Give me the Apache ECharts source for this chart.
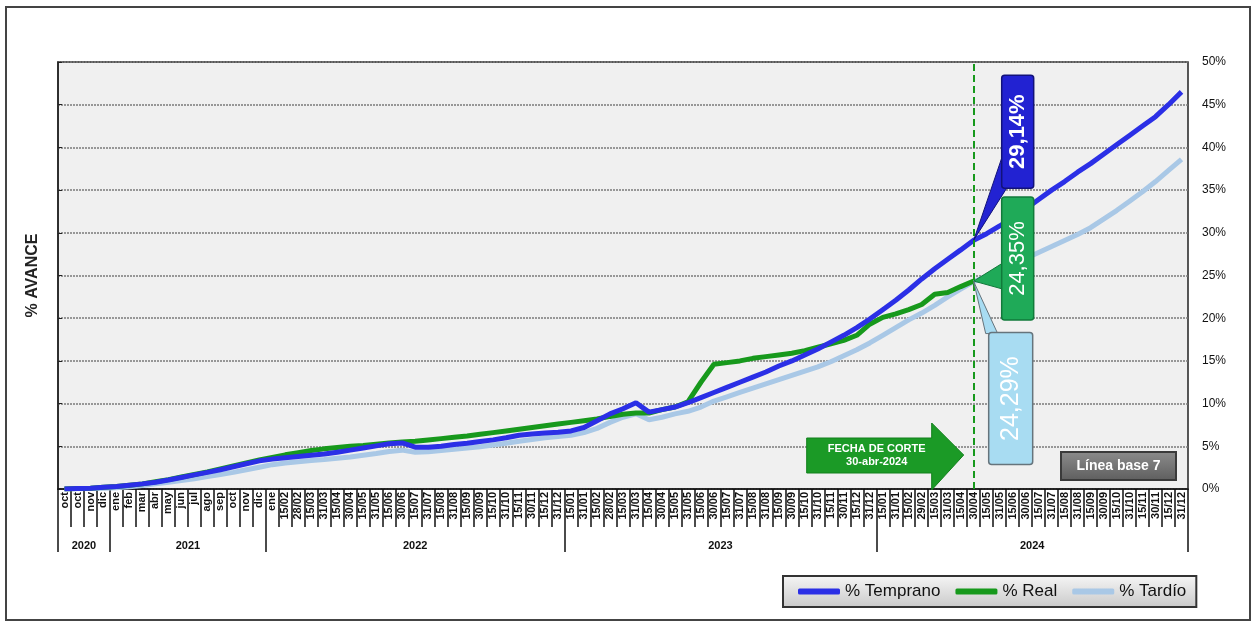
<!DOCTYPE html>
<html>
<head>
<meta charset="utf-8">
<script src="https://cdn.jsdelivr.net/npm/echarts@6/dist/echarts.min.js"></script>
<style>
  html, body { margin: 0; padding: 0; background: #fff; }
  #chart { width: 1256px; height: 626px; }
</style>
</head>
<body>
<div id="chart"></div>
<script>
// eje de fechas (87 cortes)
const categories = [
  'oct', 'oct', 'nov', 'dic',
  'ene', 'feb', 'mar', 'abr', 'may', 'jun', 'jul', 'ago', 'sep', 'oct', 'nov', 'dic',
  'ene', '15/02', '28/02', '15/03', '31/03', '15/04', '30/04', '15/05', '31/05', '15/06', '30/06', '15/07',
  '31/07', '15/08', '31/08', '15/09', '30/09', '15/10', '31/10', '15/11', '30/11', '15/12', '31/12',
  '15/01', '31/01', '15/02', '28/02', '15/03', '31/03', '15/04', '30/04', '15/05', '31/05', '15/06', '30/06',
  '15/07', '31/07', '15/08', '31/08', '15/09', '30/09', '15/10', '31/10', '15/11', '30/11', '15/12', '31/12',
  '15/01', '31/01', '15/02', '29/02', '15/03', '31/03', '15/04', '30/04', '15/05', '31/05', '15/06', '30/06',
  '15/07', '31/07', '15/08', '31/08', '15/09', '30/09', '15/10', '31/10', '15/11', '30/11', '15/12', '31/12'
]
const years = ['2020', '2021', '2022', '2023', '2024']
const yearBounds = [0, 4, 16, 39, 63, 87]
const yTicks = ['0%', '5%', '10%', '15%', '20%', '25%', '30%', '35%', '40%', '45%', '50%']

const temprano = [
  0.0, 0.05, 0.1, 0.2, 0.3, 0.45, 0.6, 0.8, 1.05, 1.35, 1.65, 1.95, 2.25, 2.6, 2.95, 3.3,
  3.5, 3.65, 3.8, 3.95, 4.1, 4.3, 4.55, 4.8, 5.05, 5.3, 5.4, 4.9, 4.9, 5.0, 5.2, 5.35,
  5.55, 5.75, 6.0, 6.3, 6.45, 6.55, 6.65, 6.8, 7.2, 8.0, 8.8, 9.4, 10.1, 9.0, 9.3, 9.6,
  10.1, 10.7, 11.3, 11.9, 12.5, 13.1, 13.7, 14.4, 15.0, 15.7, 16.4, 17.2, 18.0, 18.9, 19.9, 21.0,
  22.1, 23.3, 24.6, 25.8, 26.9, 28.0, 29.14, 29.9, 30.8, 31.8, 32.8, 33.9, 35.0, 36.0, 37.1, 38.1,
  39.2, 40.3, 41.4, 42.5, 43.6, 45.0, 46.5
]
const real = [
  0.0, 0.05, 0.1, 0.2, 0.3, 0.45, 0.6, 0.85, 1.1, 1.4, 1.7, 2.0, 2.35, 2.7, 3.05, 3.4,
  3.7, 4.0, 4.25, 4.5, 4.7, 4.85, 5.0, 5.1, 5.25, 5.4, 5.5, 5.6, 5.75, 5.9, 6.05, 6.2,
  6.4, 6.6, 6.8, 7.0, 7.2, 7.4, 7.6, 7.8, 8.0, 8.2, 8.5, 8.75, 8.9, 8.9, 9.3, 9.6,
  10.2, 12.5, 14.6, 14.8, 15.0, 15.3, 15.5, 15.7, 15.9, 16.2, 16.6, 17.0, 17.4, 18.0, 19.3, 20.1,
  20.5, 21.0, 21.6, 22.8, 23.0, 23.7, 24.35
]
const tardio = [
  0.0, 0.02, 0.05, 0.1, 0.15, 0.25, 0.4, 0.6, 0.8, 1.0, 1.2, 1.45, 1.7, 1.95, 2.25, 2.55,
  2.85, 3.05, 3.2, 3.35, 3.45, 3.6, 3.75, 3.95, 4.15, 4.4, 4.55, 4.3, 4.35, 4.5, 4.65, 4.8,
  4.95, 5.15, 5.35, 5.6, 5.8, 6.0, 6.15, 6.3, 6.6, 7.1, 7.8, 8.4, 8.8, 8.1, 8.4, 8.8,
  9.1, 9.6, 10.3, 10.8, 11.3, 11.8, 12.3, 12.8, 13.3, 13.8, 14.3, 14.9, 15.6, 16.3, 17.1, 18.0,
  18.9, 19.8, 20.6, 21.5, 22.5, 23.4, 24.29, 24.9, 25.6, 26.3, 27.0, 27.7, 28.4, 29.1, 29.8, 30.6,
  31.6, 32.6, 33.7, 34.8, 36.0, 37.3, 38.6
]

const cutIndex = 70
const cutLabel = ['FECHA DE CORTE', '30-abr-2024']
const baseLabel = 'Línea base 7'

const FONT = 'Arial, "Liberation Sans", sans-serif'
const BLUE = '#2b2fe6'
const GREEN = '#17991c'
const LIGHT = '#a9c8e6'

// estilo de los globos (caja relativa al punto de corte)
const callouts = [
  { box: [28, -165, 32, 113], tail: [[0, 0], [28, -82], [33, -52]], fill: '#2222d2', stroke: '#12127a', color: '#fff', font: 'bold 22px ' + FONT },
  { box: [28, -84, 32, 123], tail: [[0, 0], [29, -18], [29, 8]], fill: '#1faa58', stroke: '#107a3a', color: '#fff', font: '22px ' + FONT },
  { box: [15, 51, 44, 132], tail: [[0, 0], [12, 52], [24, 52]], fill: '#a8dcf2', stroke: '#66747c', color: '#fff', font: '25px ' + FONT }
]

const fmtPct = v => v.toFixed(2).replace('.', ',') + '%'
const yearMids = years.map((y, i) => (yearBounds[i] + yearBounds[i + 1]) / 2)

const chart = echarts.init(document.getElementById('chart'))

chart.setOption({
  animation: false,
  textStyle: { fontFamily: FONT },
  grid: {
    left: 58, right: 68, top: 62, bottom: 137,
    show: true, backgroundColor: '#f0f0f0', borderColor: '#222', borderWidth: 1.5
  },
  legend: {
    data: ['% Temprano', '% Real', '% Tardío'],
    left: 783, top: 576,
    padding: [7, 10, 7, 15],
    itemGap: 15, itemWidth: 42, itemHeight: 6,
    icon: 'roundRect',
    textStyle: { fontSize: 17, color: '#111', fontFamily: FONT },
    backgroundColor: {
      type: 'linear', x: 0, y: 0, x2: 0, y2: 1,
      colorStops: [{ offset: 0, color: '#f6f6f6' }, { offset: 1, color: '#c9c9c9' }]
    },
    borderColor: '#333', borderWidth: 2
  },
  xAxis: [
    {
      type: 'category',
      data: categories,
      boundaryGap: true,
      axisLine: { lineStyle: { color: '#111', width: 1.5 } },
      axisTick: { show: true, interval: 0, length: 38, lineStyle: { color: '#111', width: 1.5 } },
      axisLabel: {
        interval: 0, rotate: 90, margin: 3,
        fontSize: 11, fontWeight: 'bold', color: '#111', fontFamily: '"Liberation Sans Narrow", ' + FONT
      },
      splitLine: { show: false }
    },
    {
      type: 'value', min: 0, max: categories.length, position: 'bottom',
      axisLine: { show: false },
      axisTick: { show: true, customValues: yearBounds, length: 63, lineStyle: { color: '#111', width: 1.5 } },
      axisLabel: {
        customValues: yearMids, margin: 51, fontSize: 11, fontWeight: 'bold', color: '#111',
        formatter: v => years[yearMids.indexOf(v)] || ''
      },
      splitLine: { show: false }
    }
  ],
  yAxis: [
    {
      type: 'value', position: 'right', min: 0, max: 50, interval: 5,
      axisLine: { show: true, lineStyle: { color: '#222', width: 1.5 } },
      axisTick: { show: true, length: 4, lineStyle: { color: '#222' } },
      axisLabel: { margin: 14, fontSize: 12, color: '#111', formatter: v => yTicks[Math.round(v / 5)] },
      splitLine: { lineStyle: { color: '#7a7a7a', width: 1.5, type: [2, 1] } }
    },
    {
      type: 'value', position: 'left', min: 0, max: 50,
      name: '% AVANCE', nameLocation: 'middle', nameGap: 17, nameRotate: 90,
      nameTextStyle: { fontSize: 16, fontWeight: 'bold', color: '#222' },
      axisLine: { show: false }, axisTick: { show: false }, axisLabel: { show: false },
      splitLine: { show: false }
    }
  ],
  series: [
    {
      name: '% Tardío', type: 'line', data: tardio, showSymbol: false,
      lineStyle: { color: LIGHT, width: 5 }, itemStyle: { color: LIGHT }
    },
    {
      name: '% Real', type: 'line', data: real, showSymbol: false,
      lineStyle: { color: GREEN, width: 5 }, itemStyle: { color: GREEN },
      markLine: {
        silent: true, symbol: 'none', label: { show: false },
        lineStyle: { color: GREEN, type: [7, 4], width: 2 },
        data: [{ xAxis: cutIndex }]
      }
    },
    {
      name: '% Temprano', type: 'line', data: temprano, showSymbol: false,
      lineStyle: { color: BLUE, width: 5 }, itemStyle: { color: BLUE }
    },
    {
      // globos con el valor en la fecha de corte
      type: 'custom', silent: true, z: 10,
      data: [[cutIndex, temprano[cutIndex]], [cutIndex, real[cutIndex]], [cutIndex, tardio[cutIndex]]],
      renderItem: (params, api) => {
        const c = callouts[params.dataIndex]
        const v = api.value(1)
        const p = api.coord([api.value(0), v])
        const [bx, by, bw, bh] = c.box
        return {
          type: 'group',
          children: [
            {
              type: 'polygon',
              shape: { points: c.tail.map(t => [p[0] + t[0], p[1] + t[1]]) },
              style: { fill: c.fill, stroke: c.stroke, lineWidth: 1 }
            },
            {
              type: 'rect',
              shape: { x: p[0] + bx, y: p[1] + by, width: bw, height: bh, r: 3 },
              style: { fill: c.fill, stroke: c.stroke, lineWidth: 1.5 }
            },
            {
              type: 'text',
              x: p[0] + bx + bw / 2, y: p[1] + by + bh / 2, rotation: Math.PI / 2,
              style: { text: fmtPct(v), fill: c.color, font: c.font, align: 'center', verticalAlign: 'middle' }
            }
          ]
        }
      }
    },
    {
      // flecha "fecha de corte"
      type: 'custom', silent: true, z: 9,
      data: [[cutIndex, 0]],
      renderItem: (params, api) => {
        const p = api.coord([api.value(0), api.value(1)])
        const pts = [[-167, -51], [-42, -51], [-42, -66], [-10, -34], [-42, 1], [-42, -16], [-167, -16]]
        return {
          type: 'group',
          children: [
            {
              type: 'polygon',
              shape: { points: pts.map(t => [p[0] + t[0], p[1] + t[1]]) },
              style: { fill: '#1b9a26', stroke: '#12801c', lineWidth: 1 }
            },
            {
              type: 'text', x: p[0] - 97, y: p[1] - 40,
              style: { text: cutLabel[0], fill: '#fff', font: 'bold 11px ' + FONT, align: 'center', verticalAlign: 'middle' }
            },
            {
              type: 'text', x: p[0] - 97, y: p[1] - 27,
              style: { text: cutLabel[1], fill: '#fff', font: 'bold 11px ' + FONT, align: 'center', verticalAlign: 'middle' }
            }
          ]
        }
      }
    }
  ],
  graphic: [
    {
      type: 'rect', silent: true, z: -10,
      shape: { x: 6, y: 7, width: 1244, height: 613 },
      style: { fill: 'none', stroke: '#444', lineWidth: 2 }
    },
    {
      type: 'group', right: 79, bottom: 145, z: 20,
      children: [
        {
          type: 'rect', shape: { x: 0, y: 0, width: 115, height: 28 },
          style: {
            fill: { type: 'linear', x: 0, y: 0, x2: 0, y2: 1, colorStops: [{ offset: 0, color: '#8c8c8c' }, { offset: 1, color: '#5e5e5e' }] },
            stroke: '#3a3a3a', lineWidth: 2
          }
        },
        {
          type: 'text', x: 57.5, y: 14,
          style: { text: baseLabel, fill: '#fff', font: 'bold 14px ' + FONT, align: 'center', verticalAlign: 'middle' }
        }
      ]
    }
  ]
})
</script>
</body>
</html>
